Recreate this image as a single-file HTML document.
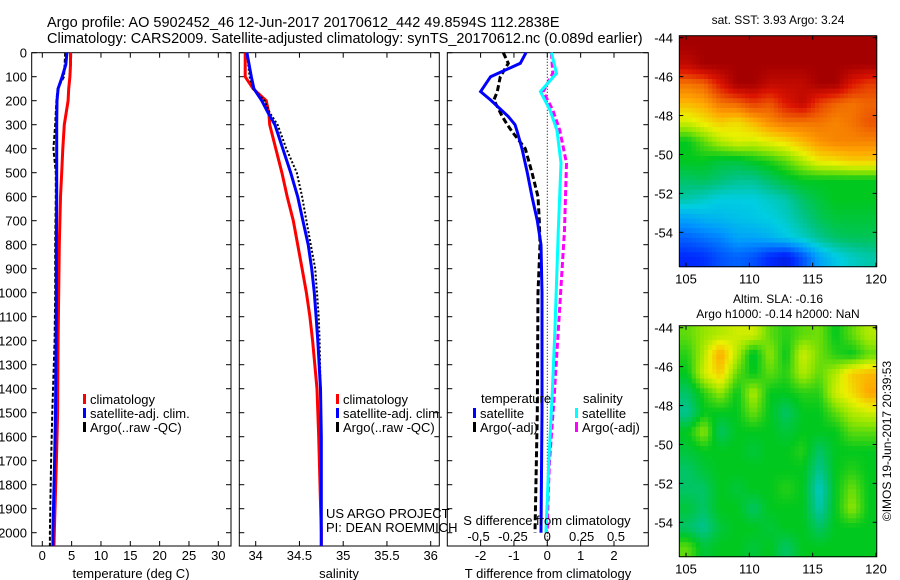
<!DOCTYPE html>
<html><head><meta charset="utf-8"><style>
body{margin:0;background:#fff;width:900px;height:580px;overflow:hidden}
svg{display:block;font-family:"Liberation Sans",sans-serif}
text{fill:#000}
</style></head><body>
<svg id="c" width="900" height="580"></svg>
<script>
// ---- data ----
const tDepth=[0,50,100,150,200,300,400,500,600,800,1000,1200,1500,1700,2000,2055];
const tClim=[4.8,4.8,4.7,4.5,4.4,3.75,3.5,3.3,3.1,2.9,2.8,2.7,2.6,2.4,2.05,2.0];
const tSat=[4.2,4.0,3.4,2.7,2.5,2.45,2.45,2.45,2.45,2.4,2.4,2.35,2.25,2.1,1.8,1.8];
const tArgo=[3.9,3.8,3.7,2.6,2.4,2.2,1.9,2.3,2.3,2.2,2.2,2.1,1.7,1.5,1.3,1.3];
const sDepth=[0,100,150,200,250,300,400,500,600,700,800,900,1000,1100,1200,1400,1600,2000,2055];
const sClim=[33.88,33.88,33.97,34.12,34.15,34.16,34.23,34.3,34.36,34.43,34.48,34.53,34.58,34.62,34.65,34.7,34.72,34.75,34.75];
const sSat=[33.9,33.95,33.98,34.07,34.14,34.22,34.31,34.4,34.48,34.54,34.6,34.64,34.67,34.69,34.71,34.74,34.75,34.75,34.75];
const sArgo=[33.9,33.93,33.97,34.1,34.16,34.25,34.35,34.47,34.53,34.58,34.63,34.68,34.7,34.72,34.73,34.74,34.75,34.75,34.75];
const dDepth=[0,44,100,162,197,266,300,330,400,500,600,700,800,1000,1500,2000];
const dTSat=[-0.64,-0.81,-1.7,-2.0,-1.7,-1.17,-0.97,-0.9,-0.76,-0.6,-0.46,-0.3,-0.19,-0.16,-0.16,-0.19];
const dTArgo=[-1.32,-1.17,-1.41,-1.5,-1.6,-1.35,-1.2,-1.05,-0.66,-0.46,-0.28,-0.24,-0.22,-0.28,-0.3,-0.37];
const dSDepth=[0,86,162,239,322,460,740,1156,1433,1710,1864,2000];
const dSSat=[0.03,0.067,-0.05,0.02,0.07,0.1,0.08,0.055,0.035,0.01,0.0,-0.01];
const dSArgo=[0.03,0.04,-0.03,0.04,0.09,0.14,0.125,0.08,0.05,0.015,0.005,0.0];
const depthTicks=[0,100,200,300,400,500,600,700,800,900,1000,1100,1200,1300,1400,1500,1600,1700,1800,1900,2000];
const tTicks=[0,5,10,15,20,25,30];
const sTicks=[34,34.5,35,35.5,36];
const dTTicks=[-2,-1,0,1,2];
const dSTicks=[-0.5,-0.25,0,0.25,0.5];
const dSLabels=["-0.5","-0.25","0","0.25","0.5"];
const lonTicks=[105,110,115,120];
const latTicks=[-44,-46,-48,-50,-52,-54];
const sstGrid=[
[1,1,1,1,1,1,1,1,1,1,1,1],
[0.95,1,1,1,1,1,1,1,1,1,1,1],
[0.78,0.8,0.9,1,1,0.95,0.95,0.95,1,1,0.9,0.85],
[0.7,0.72,0.78,0.8,0.85,0.82,0.9,0.95,0.85,0.8,0.78,0.8],
[0.62,0.65,0.68,0.66,0.7,0.75,0.78,0.78,0.78,0.76,0.78,0.82],
[0.5,0.55,0.6,0.63,0.62,0.64,0.66,0.7,0.74,0.76,0.76,0.76],
[0.5,0.5,0.48,0.48,0.5,0.52,0.55,0.6,0.65,0.66,0.68,0.68],
[0.45,0.46,0.44,0.42,0.42,0.45,0.48,0.5,0.5,0.5,0.5,0.5],
[0.4,0.38,0.36,0.36,0.36,0.38,0.4,0.45,0.48,0.5,0.5,0.5],
[0.3,0.32,0.33,0.34,0.35,0.36,0.38,0.42,0.46,0.48,0.48,0.48],
[0.22,0.24,0.26,0.3,0.3,0.32,0.35,0.38,0.42,0.45,0.46,0.46],
[0.15,0.16,0.2,0.22,0.2,0.15,0.12,0.2,0.3,0.35,0.38,0.4]];
const slaGrid=[
[0.55,0.58,0.6,0.62,0.62,0.55,0.52,0.55,0.56,0.5,0.55,0.6],
[0.52,0.6,0.72,0.6,0.48,0.58,0.5,0.62,0.56,0.52,0.5,0.55],
[0.5,0.62,0.68,0.55,0.5,0.55,0.52,0.6,0.55,0.6,0.68,0.7],
[0.45,0.52,0.58,0.5,0.6,0.5,0.5,0.52,0.52,0.62,0.66,0.72],
[0.42,0.5,0.5,0.5,0.56,0.5,0.45,0.5,0.5,0.55,0.6,0.62],
[0.5,0.58,0.45,0.5,0.5,0.5,0.48,0.5,0.5,0.5,0.55,0.55],
[0.48,0.5,0.5,0.5,0.48,0.5,0.5,0.52,0.45,0.5,0.5,0.5],
[0.45,0.48,0.5,0.5,0.5,0.5,0.5,0.5,0.42,0.5,0.52,0.5],
[0.45,0.45,0.5,0.48,0.5,0.5,0.52,0.5,0.38,0.5,0.56,0.5],
[0.48,0.45,0.5,0.5,0.45,0.5,0.5,0.5,0.4,0.5,0.58,0.5],
[0.45,0.42,0.48,0.5,0.5,0.48,0.5,0.5,0.45,0.5,0.5,0.5],
[0.55,0.48,0.5,0.5,0.48,0.5,0.45,0.5,0.5,0.5,0.5,0.5]];

// ---- helpers ----
const svg=document.getElementById('c');
const NS='http://www.w3.org/2000/svg';
function mk(tag,attrs,parent){const e=document.createElementNS(NS,tag);for(const k in attrs)e.setAttribute(k,attrs[k]);(parent||svg).appendChild(e);return e;}
function txt(x,y,s,size,anchor,name){const t=mk('text',{x:x,y:y,'font-size':size||13,'text-anchor':anchor||'start'});t.textContent=s;


return t;}
const Y0=52.7,PXM=0.24;
const yD=d=>Y0+d*PXM;
function lin(d0,d1,p0,p1){return v=>p0+(v-d0)*(p1-p0)/(d1-d0);}
const cStops=[[0,[0,0,128]],[0.15,[0,40,255]],[0.28,[0,150,255]],[0.36,[0,205,225]],[0.43,[0,195,130]],[0.5,[0,200,30]],[0.58,[150,230,0]],[0.64,[235,240,0]],[0.72,[255,165,0]],[0.8,[240,100,0]],[0.9,[220,20,0]],[1,[165,0,0]]];
function jet(v){v=Math.max(0,Math.min(1,v));for(let i=1;i<cStops.length;i++){if(v<=cStops[i][0]){const a=cStops[i-1],b=cStops[i],t=(v-a[0])/(b[0]-a[0]);
return 'rgb('+a[1].map((c,k)=>Math.round(c+(b[1][k]-c)*t)).join(',')+')';}}return 'rgb(165,0,0)';}
function line(xs,ds,fx,color,w,dash,name){let p='';for(let i=0;i<xs.length;i++)p+=(i?'L':'M')+fx(xs[i]).toFixed(1)+' '+yD(ds[i]).toFixed(1);
const e=mk('path',{d:p,fill:'none',stroke:color,'stroke-width':w,'stroke-dasharray':dash||'none'});


return e;}
function panel(x0,x1,name){const r=mk('rect',{x:x0,y:Y0,width:x1-x0,height:546-Y0,fill:'none',stroke:'#000','stroke-width':1});


depthTicks.forEach(d=>{mk('line',{x1:x0,x2:x0+5,y1:yD(d),y2:yD(d),stroke:'#000'});mk('line',{x1:x1,x2:x1-5,y1:yD(d),y2:yD(d),stroke:'#000'});});}
function xticks(ticks,fx,labels,y,top){ticks.forEach((v,i)=>{const x=fx(v);mk('line',{x1:x,x2:x,y1:546,y2:541,stroke:'#000'});if(top)mk('line',{x1:x,x2:x,y1:Y0,y2:Y0+5,stroke:'#000'});
txt(x,y,labels?labels[i]:String(v),13,'middle','x-tick-label');});}

// titles
txt(47,27,'Argo profile: AO 5902452_46 12-Jun-2017 20170612_442 49.8594S 112.2838E',14.5,'start','title-line-1');
txt(47,43,'Climatology: CARS2009. Satellite-adjusted climatology: synTS_20170612.nc (0.089d earlier)',14.5,'start','title-line-2');

depthTicks.forEach(d=>txt(27,yD(d)+5,String(d),13,'end','depth-tick-label'));

// panel 1 temperature
const fT=lin(0,30,42.3,218.3);
panel(31.7,231,'temperature-panel');
xticks(tTicks,fT,null,560,true);
txt(131,578,'temperature (deg C)',13,'middle','temperature-axis-title');
line(tClim,tDepth,fT,'#f00',3,null,'temp-climatology-line');
line(tArgo,tDepth,fT,'#000',2,'4,2','temp-argo-line');
line(tSat,tDepth,fT,'#00f',3,null,'temp-satellite-line');
function legend(x,y,items){items.forEach((it,i)=>{const r=mk('rect',{x:x,y:y+i*14-5,width:3,height:10,fill:it[0]});


txt(x+7,y+i*14+5,it[1],13,'start','legend-entry');});}
legend(83,399,[['#f00','climatology'],['#00f','satellite-adj. clim.'],['#000','Argo(..raw -QC)']]);

// panel 2 salinity
const fS=lin(34,36,255.7,430.7);
panel(239.3,439.3,'salinity-panel');
xticks(sTicks,fS,['34','34.5','35','35.5','36'],560,true);
txt(339,578,'salinity',13,'middle','salinity-axis-title');
line(sClim,sDepth,fS,'#f00',3,null,'sal-climatology-line');
line(sArgo,sDepth,fS,'#000',2,'2,2','sal-argo-line');
line(sSat,sDepth,fS,'#00f',3,null,'sal-satellite-line');
legend(336,399,[['#f00','climatology'],['#00f','satellite-adj. clim.'],['#000','Argo(..raw -QC)']]);
txt(326,518,'US ARGO PROJECT',13,'start','project-credit');
txt(326,532,'PI: DEAN ROEMMICH',13,'start','pi-credit');

// panel 3 differences
const fDT=lin(0,2,547.3,614);
const fDS=lin(0,0.5,547.3,616);
panel(447.3,648.3,'difference-panel');
xticks(dTTicks,fDT,null,560,true);
mk('line',{x1:547.3,x2:547.3,y1:Y0,y2:546,stroke:'#000','stroke-dasharray':'1,2'});
line(dTArgo,dDepth,fDT,'#000',3,'6,3','tdiff-argo-line');
line(dTSat,dDepth,fDT,'#00f',3,null,'tdiff-satellite-line');
line(dSArgo,dSDepth,fDS,'#f0f',3,'6,3','sdiff-argo-line');
line(dSSat,dSDepth,fDS,'#0ff',3,null,'sdiff-satellite-line');
txt(547,525,'S difference from climatology',13,'middle','s-diff-axis-title');
dSTicks.forEach((v,i)=>txt(fDS(v),541,dSLabels[i],13,'middle','s-diff-tick-label'));
txt(548,578,'T difference from climatology',13,'middle','t-diff-axis-title');
txt(481,403,'temperature',13,'start','legend-title-temperature');
txt(583,403,'salinity',13,'start','legend-title-salinity');
legend(473,413,[['#00f','satellite'],['#000','Argo(-adj)']]);
legend(575,413,[['#0ff','satellite'],['#f0f','Argo(-adj)']]);

// maps (bilinear upsampled)
const fLon=lin(105,120,686,876);
function sample(grid,fr,fc){const r0=Math.max(0,Math.min(11,Math.floor(fr))),c0=Math.max(0,Math.min(11,Math.floor(fc)));
const r1=Math.min(11,r0+1),c1=Math.min(11,c0+1);const tr=Math.max(0,Math.min(1,fr-r0)),tc=Math.max(0,Math.min(1,fc-c0));
return grid[r0][c0]*(1-tr)*(1-tc)+grid[r0][c1]*(1-tr)*tc+grid[r1][c0]*tr*(1-tc)+grid[r1][c1]*tr*tc;}
function map(grid,top,name){const x0=679.3,x1=876.7,y1=top+231;const N=48;const cw=(x1-x0)/N,ch=231/N;
const g=mk('g',{});
for(let r=0;r<N;r++)for(let c=0;c<N;c++){const v=sample(grid,(r+0.5)/N*12-0.5,(c+0.5)/N*12-0.5);
const e=mk('rect',{x:(x0+c*cw).toFixed(1),y:(top+r*ch).toFixed(1),width:(cw+0.5).toFixed(1),height:(ch+0.5).toFixed(1),fill:jet(v)},g);

}
mk('rect',{x:x0,y:top,width:x1-x0,height:231,fill:'none',stroke:'#000'});
const fLat=lin(-44,-54,top+2,top+196.6);
latTicks.forEach(v=>{const y=fLat(v);mk('line',{x1:x0,x2:x0+4,y1:y,y2:y,stroke:'#000'});mk('line',{x1:x1,x2:x1-4,y1:y,y2:y,stroke:'#000'});txt(673,y+5,String(v),13,'end','lat-tick-label');});
lonTicks.forEach(v=>{const x=fLon(v);mk('line',{x1:x,x2:x,y1:y1,y2:y1-4,stroke:'#000'});mk('line',{x1:x,x2:x,y1:top,y2:top+4,stroke:'#000'});txt(x,y1+17,String(v),13,'middle','lon-tick-label');});}
map(sstGrid,35.7,'sst-map');
map(slaGrid,325.7,'sla-map');
txt(778,24,'sat. SST: 3.93 Argo: 3.24',12,'middle','sst-map-title');
txt(778,303,'Altim. SLA: -0.16',12,'middle','sla-map-title');
txt(778,318,'Argo h1000: -0.14 h2000: NaN',12,'middle','argo-height-title');
const cr=txt(0,0,'©IMOS 19-Jun-2017 20:39:53',12,'middle','imos-credit');
cr.setAttribute('transform','translate(891,441) rotate(-90)');
</script>
</body></html>
